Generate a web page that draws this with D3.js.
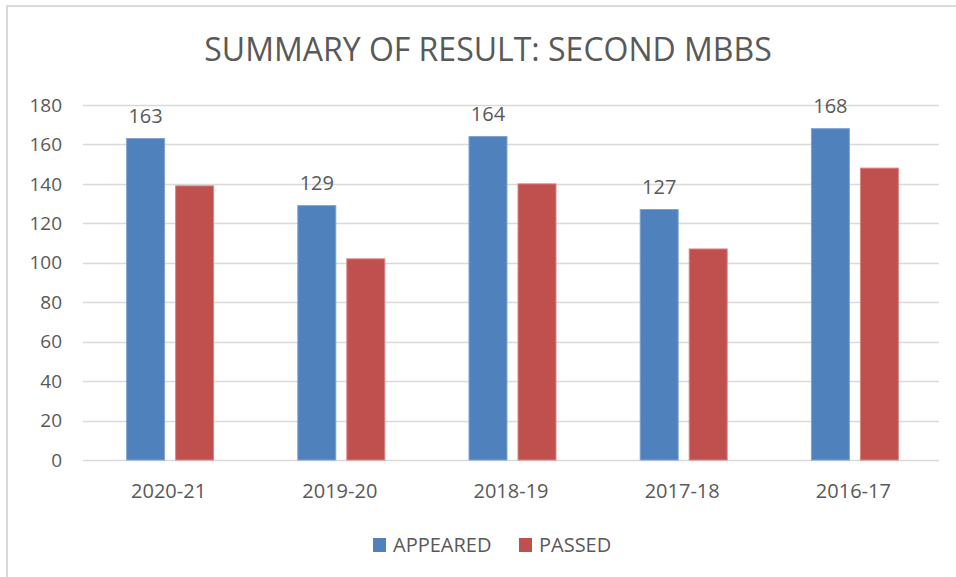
<!DOCTYPE html>
<html>
<head>
    <title>Summary of Result: Second MBBS</title>
    <style>
        /* page */
        body { margin: 0; background: #fff; }
        text { font-family: "Open Sans", "Liberation Sans", sans-serif; fill: #595959; }
    </style>
</head>
<body>
    <div id="chart"></div>

    <script src="https://d3js.org/d3.v7.min.js"></script>
    <script>
        // data
        var categories = ["2020-21", "2019-20", "2018-19", "2017-18", "2016-17"];
        var appeared = [163, 129, 164, 127, 168];
        var passed = [139, 102, 140, 107, 148];
        var seriesNames = ["APPEARED", "PASSED"];
        var yTicks = [0, 20, 40, 60, 80, 100, 120, 140, 160, 180];

        var colors = { "APPEARED": "#4F81BD", "PASSED": "#C0504D" };
        var strokes = { "APPEARED": "#7fa3d1", "PASSED": "#d98583" };

        var width = 956, height = 577;
        var plotLeft = 83, plotRight = 939, plotTop = 105, plotBottom = 460;

        var svg = d3.select("#chart").append("svg")
            .attr("width", width)
            .attr("height", height);

        // chart border (only top and left visible in the crop)
        svg.append("rect")
            .attr("x", 7).attr("y", 6)
            .attr("width", 980).attr("height", 600)
            .attr("fill", "none")
            .attr("stroke", "#d9d9d9")
            .attr("stroke-width", 2);

        // title
        svg.append("text")
            .attr("x", 488).attr("y", 61)
            .attr("text-anchor", "middle")
            .attr("font-size", 32)
            .text("SUMMARY OF RESULT: SECOND MBBS");

        // scales
        var y = d3.scaleLinear().domain([0, 180]).range([plotBottom, plotTop]);
        var x0 = d3.scaleBand().domain(categories).range([plotLeft, plotRight]);
        var groupW = 87;
        var x1 = d3.scaleBand().domain(seriesNames).range([0, groupW]).paddingInner(0.225);

        // gridlines
        svg.append("g").selectAll("line")
            .data(yTicks)
            .enter().append("line")
            .attr("x1", plotLeft).attr("x2", plotRight)
            .attr("y1", function (d) { return Math.round(y(d)) + 0.5; })
            .attr("y2", function (d) { return Math.round(y(d)) + 0.5; })
            .attr("stroke", "#d9d9d9")
            .attr("stroke-width", 1.5);

        // y axis labels
        svg.append("g").selectAll("text")
            .data(yTicks)
            .enter().append("text")
            .attr("x", 62)
            .attr("y", function (d) { return y(d); })
            .attr("dy", "0.35em")
            .attr("text-anchor", "end")
            .attr("font-size", 19)
            .text(function (d) { return d; });

        // x axis labels
        svg.append("g").selectAll("text")
            .data(categories)
            .enter().append("text")
            .attr("x", function (d) { return x0(d) + x0.bandwidth() / 2; })
            .attr("y", 498)
            .attr("text-anchor", "middle")
            .attr("font-size", 20)
            .text(function (d) { return d; });

        // bars
        var rows = categories.map(function (c, i) {
            return { cat: c, values: [
                { name: "APPEARED", value: appeared[i] },
                { name: "PASSED", value: passed[i] }
            ] };
        });

        var groups = svg.append("g").selectAll("g")
            .data(rows)
            .enter().append("g")
            .attr("transform", function (d) {
                return "translate(" + (x0(d.cat) + x0.bandwidth() / 2 - groupW / 2 + 1.5) + ",0)";
            });

        groups.selectAll("rect")
            .data(function (d) { return d.values; })
            .enter().append("rect")
            .attr("x", function (d) { return x1(d.name); })
            .attr("y", function (d) { return y(d.value); })
            .attr("width", x1.bandwidth())
            .attr("height", function (d) { return plotBottom - y(d.value); })
            .attr("fill", function (d) { return colors[d.name]; })
            .attr("stroke", function (d) { return strokes[d.name]; })
            .attr("stroke-width", 1);

        // data labels on APPEARED only
        groups.append("text")
            .attr("x", function (d) { return x1("APPEARED") + x1.bandwidth() / 2; })
            .attr("y", function (d) { return y(d.values[0].value) - 16; })
            .attr("text-anchor", "middle")
            .attr("font-size", 20)
            .attr("fill", "#404040")
            .text(function (d) { return d.values[0].value; });

        // legend
        var legend = svg.append("g").attr("transform", "translate(373,538)");
        var legendX = { "APPEARED": 0, "PASSED": 146 };
        var item = legend.selectAll("g")
            .data(seriesNames)
            .enter().append("g")
            .attr("transform", function (d) { return "translate(" + legendX[d] + ",0)"; });
        item.append("rect")
            .attr("width", 13).attr("height", 14)
            .attr("fill", function (d) { return colors[d]; });
        item.append("text")
            .attr("x", 20).attr("y", 14)
            .attr("font-size", 20)
            .text(function (d) { return d; });
    </script>
</body>
</html>
